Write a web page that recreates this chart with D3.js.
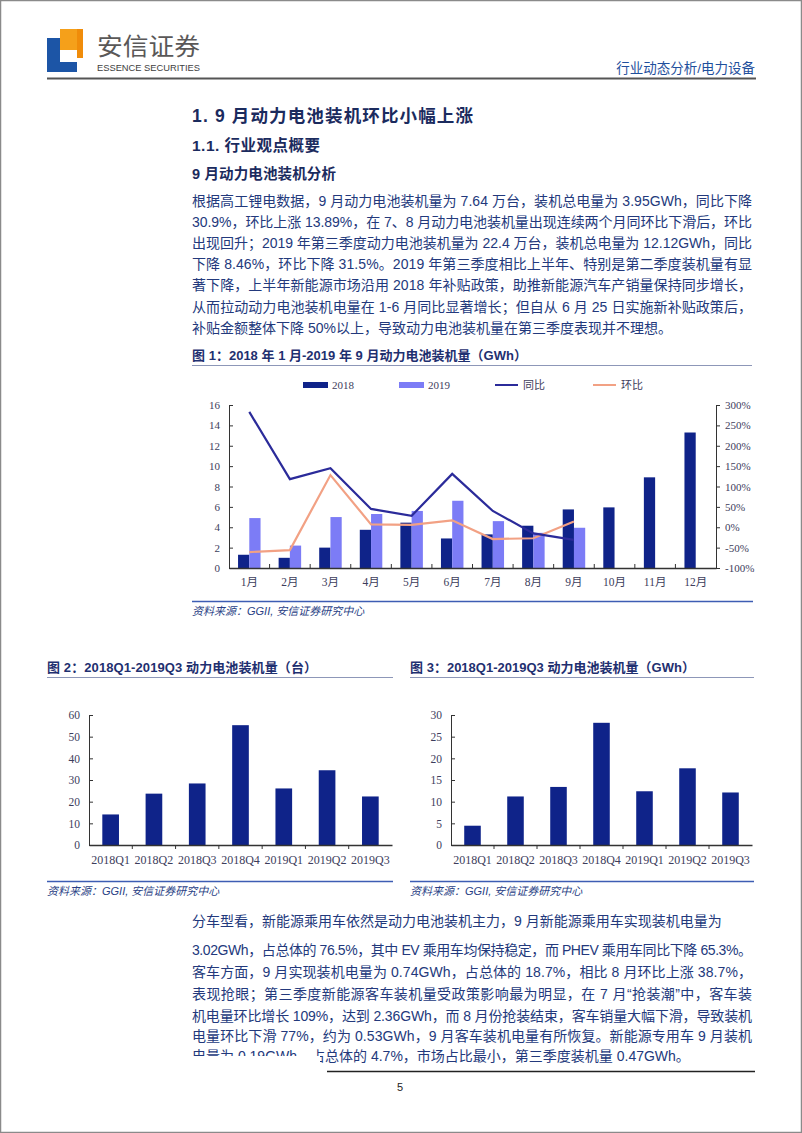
<!DOCTYPE html>
<html><head><meta charset="utf-8">
<script src="https://cdn.jsdelivr.net/npm/d3@7"></script>
<style>body{margin:0;background:#fff} svg{display:block}</style>
</head><body>
<script>
// ---------- DATA ----------
const months = ["1月","2月","3月","4月","5月","6月","7月","8月","9月","10月","11月","12月"];
const gwh2018 = [1.3, 1.0, 2.0, 3.75, 4.45, 2.9, 3.3, 4.15, 5.75, 5.95, 8.9, 13.3];
const gwh2019 = [4.9, 2.2, 5.0, 5.3, 5.6, 6.6, 4.6, 3.45, 3.95];
const yoyPct = [283, 118, 145, 45, 28, 131, 40, -15, -30.9];
const momPct = [-61, -56, 128, 7, 6, 17, -29, -27, 13.89];
const leftTicks1 = [0,2,4,6,8,10,12,14,16];
const rightTicks1 = [-100,-50,0,50,100,150,200,250,300];
const legend1 = ["2018","2019","同比","环比"];

const quarters = ["2018Q1","2018Q2","2018Q3","2018Q4","2019Q1","2019Q2","2019Q3"];
const unitsQ = [14.1, 23.7, 28.4, 55.3, 26.1, 34.5, 22.4];
const gwhQ = [4.45, 11.2, 13.4, 28.2, 12.4, 17.7, 12.12];
const ticksUnits = [0,10,20,30,40,50,60];
const ticksGwh = [0,5,10,15,20,25,30];

const para1 = [
 "根据高工锂电数据，9 月动力电池装机量为 7.64 万台，装机总电量为 3.95GWh，同比下降",
 "30.9%，环比上涨 13.89%，在 7、8 月动力电池装机量出现连续两个月同环比下滑后，环比",
 "出现回升；2019 年第三季度动力电池装机量为 22.4 万台，装机总电量为 12.12GWh，同比",
 "下降 8.46%，环比下降 31.5%。2019 年第三季度相比上半年、特别是第二季度装机量有显",
 "著下降，上半年新能源市场沿用 2018 年补贴政策，助推新能源汽车产销量保持同步增长，",
 "从而拉动动力电池装机电量在 1-6 月同比显著增长；但自从 6 月 25 日实施新补贴政策后，",
 "补贴金额整体下降 50%以上，导致动力电池装机量在第三季度表现并不理想。"
];
const para2 = [
 "分车型看，新能源乘用车依然是动力电池装机主力，9 月新能源乘用车实现装机电量为",
 "3.02GWh，占总体的 76.5%，其中 EV 乘用车均保持稳定，而 PHEV 乘用车同比下降 65.3%。",
 "客车方面，9 月实现装机电量为 0.74GWh，占总体的 18.7%，相比 8 月环比上涨 38.7%，",
 "表现抢眼；第三季度新能源客车装机量受政策影响最为明显，在 7 月“抢装潮”中，客车装",
 "机电量环比增长 109%，达到 2.36GWh，而 8 月份抢装结束，客车销量大幅下滑，导致装机",
 "电量环比下滑 77%，约为 0.53GWh，9 月客车装机电量有所恢复。新能源专用车 9 月装机",
 "电量为 0.19GWh，占总体的 4.7%，市场占比最小，第三季度装机量 0.47GWh。"
];

// ---------- STYLE ----------
const FONT = "'Liberation Sans','Noto Sans CJK SC',sans-serif";
const SERIF = "'Liberation Serif','Noto Sans CJK SC',serif";
const TXT = "#23397c";
const HEAD = "#1b2b5e";
const C2018 = "#0f2389";
const C2019 = "#7c7cf6";
const CYOY = "#2b2b9a";
const CMOM = "#f2a184";
const AX = "#333";
const TICK = "#3d3d5c";

const svg = d3.select("body").append("svg").attr("width",802).attr("height",1133);
svg.append("rect").attr("x",0.5).attr("y",0.5).attr("width",801).attr("height",1132)
  .attr("fill","#fff").attr("stroke","#8a8a8a").attr("stroke-width",1.5);

// ---------- HEADER ----------
const logo = svg.append("g");
logo.append("rect").attr("x",60).attr("y",29).attr("width",23).attr("height",21).attr("fill","#f5a01a");
logo.append("rect").attr("x",77).attr("y",29).attr("width",6).attr("height",29).attr("fill","#f08c0a");
logo.append("rect").attr("x",47).attr("y",38).attr("width",13).attr("height",34).attr("fill","#1c55a6");
logo.append("rect").attr("x",47).attr("y",62).attr("width",30).attr("height",10).attr("fill","#1c55a6");
svg.append("text").attr("x",97).attr("y",54.5).attr("font-family","'Noto Sans CJK SC',sans-serif")
  .attr("font-size",23.5).attr("fill","#5a5858").attr("textLength",103).attr("lengthAdjust","spacingAndGlyphs").text("安信证券");
svg.append("text").attr("x",97).attr("y",70.5).attr("font-family",FONT)
  .attr("font-size",9.5).attr("fill","#3e3e3e").attr("textLength",103).attr("lengthAdjust","spacingAndGlyphs").text("ESSENCE SECURITIES");
svg.append("text").attr("x",755).attr("y",73).attr("text-anchor","end").attr("font-family",FONT)
  .attr("font-size",13.5).attr("fill","#1f4f9c").text("行业动态分析/电力设备");
svg.append("line").attr("x1",47).attr("x2",756).attr("y1",78.5).attr("y2",78.5).attr("stroke","#555").attr("stroke-width",2);

// ---------- HEADINGS & PARAGRAPH ----------
function txt(x,y,s,size,opts={}){
  const t = svg.append("text").attr("x",x).attr("y",y).attr("dominant-baseline","central")
    .attr("font-family",opts.family||FONT).attr("font-size",size).attr("fill",opts.fill||TXT)
    .attr("font-weight",opts.weight||"normal").text(s);
  if(opts.len){t.attr("textLength",opts.len).attr("lengthAdjust","spacing");}
  if(opts.anchor) t.attr("text-anchor",opts.anchor);
  if(opts.italic) t.attr("font-style","italic");
  return t;
}
txt(192,116,"1. 9 月动力电池装机环比小幅上涨",17.5,{weight:"bold",fill:HEAD,len:281});
txt(192,145,"1.1. 行业观点概要",15.5,{weight:"bold",fill:HEAD,len:128});
txt(192,174,"9 月动力电池装机分析",14.5,{weight:"bold",fill:HEAD,len:144});
para1.forEach((s,i)=>{
  txt(192,200.5+21.2*i,s,14,{len: i<6?560:null});
});

// ---------- FIGURE 1 ----------
txt(192,355,"图 1：2018 年 1 月-2019 年 9 月动力电池装机量（GWh）",13,{weight:"bold",fill:"#1f3070",len:335});
svg.append("line").attr("x1",192).attr("x2",752).attr("y1",365.5).attr("y2",365.5).attr("stroke","#8d97b8").attr("stroke-width",1);

const c1 = svg.append("g");
const x1 = d3.scaleBand().domain(months).range([229,716]);
const yL = d3.scaleLinear().domain([0,16]).range([568,405]);
const yR = d3.scaleLinear().domain([-100,300]).range([568,405]);
const groupW = 22.5;
const xs = d3.scaleBand().domain(["2018","2019"]).range([0,groupW]);
const cx = m => x1(m)+x1.bandwidth()/2;

c1.selectAll("rect.b18").data(gwh2018).join("rect")
  .attr("x",(d,i)=>cx(months[i])-groupW/2+xs("2018")).attr("width",xs.bandwidth())
  .attr("y",d=>yL(d)).attr("height",d=>yL(0)-yL(d)).attr("fill",C2018);
c1.selectAll("rect.b19").data(gwh2019).join("rect")
  .attr("x",(d,i)=>cx(months[i])-groupW/2+xs("2019")).attr("width",xs.bandwidth())
  .attr("y",d=>yL(d)).attr("height",d=>yL(0)-yL(d)).attr("fill",C2019);

const lineGen = d3.line().x((d,i)=>cx(months[i])).y(d=>yR(d));
c1.append("path").datum(momPct).attr("d",lineGen).attr("fill","none").attr("stroke",CMOM).attr("stroke-width",2.2);
c1.append("path").datum(yoyPct).attr("d",lineGen).attr("fill","none").attr("stroke",CYOY).attr("stroke-width",2.2);

function styleAxis(g, size){
  g.selectAll("path.domain").attr("stroke",AX).attr("stroke-width",1);
  g.selectAll(".tick line").attr("stroke",AX);
  g.selectAll(".tick text").attr("fill",TICK).attr("font-family",SERIF).attr("font-size",size);
}
const aL = c1.append("g").attr("transform","translate(229,0)")
  .call(d3.axisLeft(yL).tickValues(leftTicks1).tickSizeInner(-4).tickSizeOuter(-4).tickPadding(9));
styleAxis(aL,11);
const aR = c1.append("g").attr("transform","translate(716,0)")
  .call(d3.axisRight(yR).tickValues(rightTicks1).tickFormat(d=>d+"%").tickSizeInner(4).tickSizeOuter(4).tickPadding(5));
styleAxis(aR,11);
const aB = c1.append("g").attr("transform","translate(0,568)")
  .call(d3.axisBottom(x1).tickSize(0).tickPadding(10));
styleAxis(aB,11.5);
aB.selectAll("path.domain").attr("stroke-width",1.3);
c1.selectAll("line.bt").data(months.slice(1)).join("line")
  .attr("x1",d=>x1(d)).attr("x2",d=>x1(d)).attr("y1",568).attr("y2",564).attr("stroke",AX);

// legend
const lg = c1.append("g").attr("font-family",SERIF).attr("font-size",11).attr("fill",TICK);
const lgX = [303,399,495,593];
lg.append("rect").attr("x",lgX[0]).attr("y",382).attr("width",25).attr("height",6).attr("fill",C2018);
lg.append("rect").attr("x",lgX[1]).attr("y",382).attr("width",25).attr("height",6).attr("fill",C2019);
lg.append("line").attr("x1",lgX[2]).attr("x2",lgX[2]+23).attr("y1",385).attr("y2",385).attr("stroke",CYOY).attr("stroke-width",2);
lg.append("line").attr("x1",lgX[3]).attr("x2",lgX[3]+23).attr("y1",385).attr("y2",385).attr("stroke",CMOM).attr("stroke-width",2);
legend1.forEach((s,i)=>{
  lg.append("text").attr("x",lgX[i]+(i<2?29:28)).attr("y",385).attr("dominant-baseline","central").text(s);
});

svg.append("line").attr("x1",192).attr("x2",753).attr("y1",601.5).attr("y2",601.5).attr("stroke","#3d5db3").attr("stroke-width",1.6);
txt(192,611,"资料来源：GGII, 安信证券研究中心",11,{italic:true,fill:"#2a3f85"});

// ---------- FIGURES 2 & 3 ----------
function quarterChart(opts){
  txt(opts.capX,667,opts.caption,13,{weight:"bold",fill:"#1f3070",len:opts.capLen});
  svg.append("line").attr("x1",opts.capX).attr("x2",opts.lineEnd).attr("y1",677.5).attr("y2",677.5).attr("stroke","#8d97b8").attr("stroke-width",1);
  const g = svg.append("g");
  const x = d3.scaleBand().domain(quarters).range([opts.x0,opts.x1]).paddingInner(0.615).paddingOuter(0.3075);
  const y = d3.scaleLinear().domain([0,opts.max]).range([845,715]);
  g.selectAll("rect").data(opts.values).join("rect")
    .attr("x",(d,i)=>x(quarters[i])).attr("width",x.bandwidth())
    .attr("y",d=>y(d)).attr("height",d=>y(0)-y(d)).attr("fill",C2018);
  const ay = g.append("g").attr("transform",`translate(${opts.x0},0)`)
    .call(d3.axisLeft(y).tickValues(opts.ticks).tickSizeInner(-4).tickSizeOuter(-4).tickPadding(9));
  styleAxis(ay,11.5);
  const ax = g.append("g").attr("transform","translate(0,845)")
    .call(d3.axisBottom(x).tickSize(0).tickPadding(10));
  styleAxis(ax,12);
  ax.selectAll("path.domain").attr("stroke-width",1.3);
  const step = x.step();
  g.selectAll("line.bt").data(quarters.slice(1)).join("line")
    .attr("x1",d=>x(d)-step*0.3075).attr("x2",d=>x(d)-step*0.3075).attr("y1",845).attr("y2",849).attr("stroke",AX);
  svg.append("line").attr("x1",opts.capX).attr("x2",opts.lineEnd).attr("y1",881.5).attr("y2",881.5).attr("stroke","#3d5db3").attr("stroke-width",1.6);
  txt(opts.capX,891,"资料来源：GGII, 安信证券研究中心",11,{italic:true,fill:"#2a3f85"});
}
quarterChart({caption:"图 2：2018Q1-2019Q3 动力电池装机量（台）",capX:47,capLen:270,lineEnd:393,x0:89,x1:392,max:60,ticks:ticksUnits,values:unitsQ});
quarterChart({caption:"图 3：2018Q1-2019Q3 动力电池装机量（GWh）",capX:410,capLen:285,lineEnd:754,x0:451,x1:752,max:30,ticks:ticksGwh,values:gwhQ});

// ---------- SECOND PARAGRAPH ----------
const p2y = [921,950,972,994,1015.5,1036,1056];
para2.forEach((s,i)=>{
  txt(192,p2y[i],s,14,{len:(i>=1&&i<=5)?560:null});
});
// white cover hiding the lower-left part of the last line, as in the reference
svg.append("rect").attr("x",185).attr("y",1056).attr("width",135).attr("height",14).attr("fill","#fff");

svg.append("line").attr("x1",327).attr("x2",755).attr("y1",1071.5).attr("y2",1071.5).attr("stroke","#222").attr("stroke-width",1.5);
txt(400,1087,"5",11,{anchor:"middle",fill:"#222"});
</script>
</body></html>
